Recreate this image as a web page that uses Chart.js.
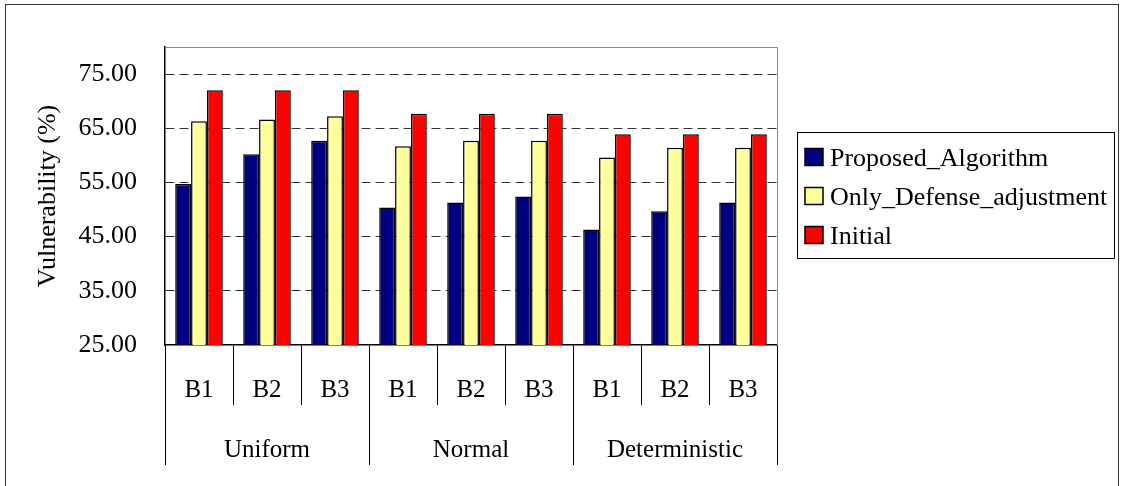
<!DOCTYPE html>
<html>
<head>
<meta charset="utf-8">
<script src="https://cdn.jsdelivr.net/npm/chart.js@4/dist/chart.umd.min.js"></script>
<style>
  html, body { margin: 0; padding: 0; background: #fff; }
  #wrap { width: 1121px; height: 486px; position: relative; }
</style>
</head>
<body>
<div id="wrap"><canvas id="c" width="1121" height="486"></canvas></div>
<script>
const categories = ['B1', 'B2', 'B3', 'B1', 'B2', 'B3', 'B1', 'B2', 'B3'];
const groups = ['Uniform', 'Normal', 'Deterministic'];
const seriesNames = ['Proposed_Algorithm', 'Only_Defense_adjustment', 'Initial'];
const proposed = [54.7, 60.2, 62.7, 50.4, 51.3, 52.4, 46.3, 49.7, 51.3];
const onlyDefense = [66.3, 66.6, 67.2, 61.7, 62.7, 62.7, 59.6, 61.4, 61.4];
const initial = [72.0, 72.0, 72.0, 67.7, 67.7, 67.7, 63.9, 63.9, 63.9];
const yTicks = [25, 35, 45, 55, 65, 75];
const yTitle = 'Vulnerability (%)';

const FONT = "'Liberation Serif'";
Chart.defaults.font.family = FONT;
Chart.defaults.color = '#000';

const framePlugin = {
  id: 'frames',
  beforeDraw(chart) {
    const ctx = chart.ctx;
    ctx.save();
    ctx.fillStyle = '#fff';
    ctx.fillRect(0, 0, chart.width, chart.height);
    ctx.strokeStyle = '#333';
    ctx.lineWidth = 1;
    ctx.strokeRect(5.5, 4.5, chart.width - 8, chart.height + 20);
    ctx.restore();
  },
  afterDraw(chart) {
    const ctx = chart.ctx;
    const a = chart.chartArea;
    ctx.save();
    // plot area frame (top and right)
    ctx.strokeStyle = '#888';
    ctx.lineWidth = 1;
    ctx.beginPath();
    ctx.moveTo(a.left, Math.round(a.top) + 0.5);
    ctx.lineTo(Math.round(a.right) + 0.5, Math.round(a.top) + 0.5);
    ctx.lineTo(Math.round(a.right) + 0.5, a.bottom);
    ctx.stroke();
    // legend (drawn from the chart's datasets)
    const cy = (a.top + a.bottom) / 2;
    const step = 39;
    const boxL = a.right + 28;
    ctx.strokeStyle = '#000';
    ctx.lineWidth = 1;
    ctx.strokeRect(a.right + 20.5, Math.round(cy - 64) + 0.5, chart.width - a.right - 27, 126);
    ctx.font = '26px ' + FONT;
    ctx.textBaseline = 'middle';
    ctx.textAlign = 'left';
    chart.data.datasets.forEach((ds, i) => {
      const c = cy + (i - 1) * step;
      ctx.fillStyle = ds.backgroundColor;
      ctx.fillRect(boxL, c - 8.5, 18, 17);
      ctx.lineWidth = 1.5;
      ctx.strokeRect(boxL, c - 8.5, 18, 17);
      ctx.fillStyle = '#000';
      ctx.fillText(ds.label, boxL + 25, c + 2);
    });
    ctx.restore();
  }
};

const barStyle = { borderColor: '#000', borderWidth: 1.5, borderSkipped: false };

new Chart(document.getElementById('c'), {
  type: 'bar',
  data: {
    labels: categories,
    datasets: [
      Object.assign({ label: seriesNames[0], data: proposed, backgroundColor: '#000080' }, barStyle),
      Object.assign({ label: seriesNames[1], data: onlyDefense, backgroundColor: '#FFFF99' }, barStyle),
      Object.assign({ label: seriesNames[2], data: initial, backgroundColor: '#FF0000' }, barStyle)
    ]
  },
  options: {
    responsive: false,
    animation: false,
    devicePixelRatio: 1,
    layout: { padding: { top: 47, left: 5, right: 344, bottom: 21 } },
    datasets: { bar: { categoryPercentage: 0.7, barPercentage: 1.0 } },
    plugins: {
      tooltip: { enabled: false },
      legend: { display: false }
    },
    scales: {
      x: {
        type: 'category',
        position: 'bottom',
        weight: 1,
        offset: true,
        grid: { offset: true, drawOnChartArea: false, drawTicks: true, tickLength: 60, color: '#000', lineWidth: 1 },
        border: { display: true, color: '#000', width: 1.5 },
        ticks: { font: { size: 25, family: FONT }, color: '#000', padding: -30, maxRotation: 0, autoSkip: false },
        afterFit(s) { s.height = 60; }
      },
      x2: {
        type: 'category',
        labels: groups,
        position: 'bottom',
        weight: 2,
        offset: true,
        grid: { offset: true, drawOnChartArea: false, drawTicks: true, tickLength: 60, color: '#000', lineWidth: 1 },
        border: { display: false },
        ticks: { font: { size: 25, family: FONT }, color: '#000', padding: -30, maxRotation: 0, autoSkip: false },
        afterFit(s) { s.height = 60; }
      },
      y: {
        type: 'linear',
        position: 'left',
        min: 25,
        max: 80,
        afterBuildTicks(s) { s.ticks = yTicks.map(v => ({ value: v })); },
        grid: {
          drawTicks: false,
          color: (c) => (c.tick && c.tick.value === 25) ? 'rgba(0,0,0,0)' : '#333',
          lineWidth: 1
        },
        border: { display: true, color: '#000', width: 1.5, dash: [9, 5] },
        ticks: { font: { size: 26, family: FONT }, color: '#000', padding: 28, callback: (v) => Number(v).toFixed(2) },
        title: { display: true, text: yTitle, font: { size: 26, family: FONT }, color: '#000', padding: { top: 28, bottom: 0 } },
        afterFit(s) { s.width = 160; }
      }
    }
  },
  plugins: [framePlugin]
});
</script>
</body>
</html>
